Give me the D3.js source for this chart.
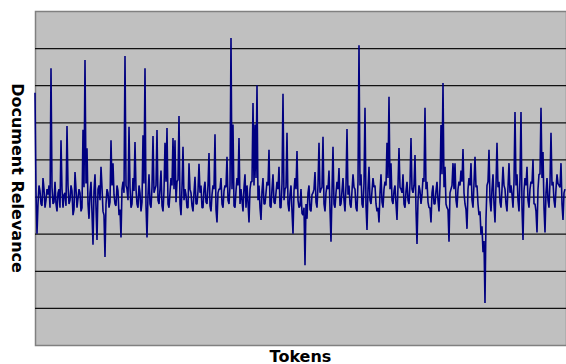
<!DOCTYPE html>
<html>
<head>
<meta charset="utf-8">
<script src="https://cdn.jsdelivr.net/npm/d3@7"></script>
<style>
  html, body { margin: 0; padding: 0; background: #fff; }
  svg { display: block; }
</style>
</head>
<body>
<div class="chart"></div>
<script>
// relevance per token, in gridline units
var relevance = [
  2.8, -1.0, 0.3, -0.2, 0.5, -0.3, 0.2, 0.3, 3.46, -0.2,
  0.4, -0.4, 0.2, 1.52, -0.3, 0.1, 1.9, -0.2, 0.3, -0.5,
  0.66, -0.3, 0.2, -0.4, 1.8, 3.68, 1.3, -0.6, 0.4, -1.3,
  0.6, -1.17, 0.3, 0.8, -0.4, -1.63, 0.2, -0.3, 1.52, 0.9,
  -0.2, 0.3, -0.5, -1.1, 0.4, 3.79, 0.2, 1.88, -0.3, 0.5,
  1.47, -0.2, 0.3, -0.4, 1.65, 3.46, -1.1, 0.6, -0.3, 1.63,
  0.2, 1.79, -0.2, 0.7, -0.4, 1.45, 1.85, -0.3, 0.5, 1.58,
  1.52, 0.4, 2.17, -0.5, 1.34, 0.2, -0.3, 0.9, 0.1, -0.4,
  0.53, -0.2, 0.88, 0.3, -0.3, 0.4, -0.2, 1.17, -0.4, 0.3,
  1.68, -0.7, 0.2, 0.5, -0.3, 0.3, 1.07, -0.2, 4.27, 1.94,
  -0.3, 0.5, 1.58, 0.2, -0.4, 0.6, 0.3, -0.7, 0.4, 2.52,
  1.94, 3.0, 0.3, -0.63, 0.5, -0.2, 0.4, 1.26, -0.3, 0.6,
  -0.2, 0.4, 0.8, -0.3, 2.77, 0.2, 1.72, -0.4, 0.3, -1.0,
  0.5, 1.23, -0.3, 0.2, -0.5, -1.85, -0.6, 0.3, -0.4, 0.1,
  0.66, -0.3, 1.45, 0.2, 1.61, -0.4, 0.3, 0.7, -1.22, 1.34,
  -0.3, 0.4, 0.77, -0.2, 0.5, -0.4, 1.82, 0.3, -0.3, 0.6,
  0.2, -0.4, 4.08, 0.6, -0.3, 2.39, -0.9, 0.8, -0.2, 0.5,
  0.3, -0.4, -0.7, 0.6, -0.3, 0.4, 1.45, 2.69, 0.9, -0.2,
  0.3, -0.63, 1.31, 0.2, 0.6, -0.3, 0.4, -0.2, 1.58, 0.1,
  1.12, -1.28, 0.3, -0.2, 0.5, 2.39, 0.4, -0.3, -0.7, 0.3,
  -0.2, 0.4, -0.4, 1.93, 3.06, 0.8, -0.3, -1.22, 0.2, 0.9,
  0.9, -0.3, 0.4, 0.7, 1.28, -0.2, -0.87, 0.5, 0.9, -0.3,
  1.07, 0.3, -0.5, -1.03, -1.5, -2.87, 0.3, 1.26, -0.4, 0.6,
  -0.7, 1.45, 0.4, -0.3, 0.8, 0.2, -0.4, 0.9, 0.3, -0.3,
  2.28, 0.6, -0.4, 2.28, -1.17, 0.5, 0.8, -0.3, 0.4, 1.0,
  -0.2, -0.97, 0.6, 2.39, 1.2, -0.97, 0.5, -0.3, 1.72, 0.4,
  -0.3, 0.6, 0.3, 0.9, -0.63, 0.2
];
// the low-level tokens that sit between the ones above
var band = [
  0.1, -0.2, 0.15, -0.25, 0.2, -0.1, 0.05, -0.3, 0.25, -0.15,
  -0.2, 0.1, -0.3, 0.2, 0.05, -0.25, 0.3, -0.1, 0.15, -0.35,
  0.2, -0.05, 0.1, -0.3, 0.25, 0.35, -0.2, 0.1, -0.45, 0.15,
  -0.3, 0.2, -0.1, 0.25, -0.5, -0.2, 0.1, -0.15, 0.3, 0.05,
  -0.25, 0.15, -0.35, 0.2, 0.1, 0.3, -0.1, 0.25, -0.2, 0.15,
  0.2, -0.3, 0.1, -0.15, 0.35, -0.25, 0.05, -0.2, 0.25, 0.1,
  0.3, -0.1, 0.2, -0.25, 0.15, 0.4, -0.2, 0.1, 0.3, 0.2,
  -0.15, 0.45, -0.2, 0.25, -0.1, 0.05, -0.3, 0.2, -0.25, 0.1,
  -0.2, 0.15, 0.1, -0.3, 0.2, -0.15, 0.3, -0.25, 0.05, 0.2,
  -0.35, 0.1, 0.2, -0.2, 0.15, 0.25, -0.1, 0.3, 0.2, -0.25,
  0.15, 0.3, -0.2, -0.1, 0.25, -0.3, -0.15, 0.2, 0.4, 0.3,
  0.5, -0.1, -0.3, 0.15, -0.2, 0.1, 0.3, -0.25, 0.2, -0.15,
  0.1, 0.2, -0.3, 0.35, -0.1, 0.25, -0.2, 0.05, -0.4, 0.15,
  0.2, -0.1, -0.25, -0.45, -0.3, -0.2, 0.1, -0.35, 0.05, 0.2,
  -0.15, 0.3, 0.1, 0.25, -0.2, 0.1, 0.2, -0.35, 0.15, -0.2,
  0.1, 0.2, -0.25, 0.15, -0.1, 0.3, 0.05, -0.2, 0.15, 0.25,
  -0.3, 0.4, 0.3, -0.2, 0.35, -0.25, 0.2, -0.1, 0.15, 0.25,
  -0.2, -0.3, 0.1, -0.15, 0.2, 0.3, 0.5, 0.2, -0.1, 0.15,
  -0.2, 0.3, 0.25, 0.1, -0.2, 0.15, -0.1, 0.35, 0.2, 0.3,
  -0.35, -0.1, 0.15, 0.05, 0.4, 0.2, -0.15, -0.3, 0.1, -0.2,
  0.15, -0.1, 0.3, 0.6, 0.25, -0.2, -0.35, 0.1, 0.3, 0.2,
  -0.1, 0.2, 0.3, 0.4, 0.1, -0.35, 0.2, 0.3, -0.1, 0.35,
  0.25, -0.2, -0.4, -0.8, -1.2, -0.6, 0.4, -0.1, 0.2, -0.2,
  0.3, 0.25, -0.15, 0.2, 0.3, -0.2, 0.25, 0.1, 0.05, 0.4,
  0.3, -0.1, 0.5, -0.3, 0.15, 0.3, -0.1, 0.2, 0.35, -0.2,
  -0.4, 0.2, 0.6, 0.5, -0.3, 0.1, -0.1, 0.4, 0.3, -0.1,
  0.2, 0.35, 0.25, -0.2, 0.1
];
var gridValues = [-3, -2, -1, 0, 1, 2, 3, 4];
var yDomain = [-4, 5];

var width = 566, height = 364;
var margin = { top: 11, right: 0, bottom: 19, left: 35 };

// interleave the two token lists in reading order
var series = d3.merge(relevance.map((v, i) => i < band.length ? [v, band[i]] : [v]));

var svg = d3.select('.chart')
  .append('svg')
  .attr('width', width)
  .attr('height', height);

var x = d3.scaleLinear()
  .domain([0, series.length - 1])
  .range([margin.left, width - margin.right - 1]);

var y = d3.scaleLinear()
  .domain(yDomain)
  .range([height - margin.bottom, margin.top]);

svg.append('rect')
  .attr('x', margin.left + 0.5)
  .attr('y', margin.top + 0.5)
  .attr('width', width - margin.left)
  .attr('height', height - margin.bottom - margin.top)
  .attr('fill', '#c0c0c0')
  .attr('stroke', '#808080')
  .attr('stroke-width', 1.5);

svg.append('g')
  .attr('transform', `translate(${margin.left},0)`)
  .call(d3.axisLeft(y).tickValues(gridValues).tickSize(-(width - margin.left)).tickFormat(''))
  .call(g => g.select('.domain').remove())
  .call(g => g.selectAll('.tick line').attr('stroke', '#111').attr('stroke-width', 1.3));

var line = d3.line()
  .x((d, i) => x(i))
  .y(d => y(d));

svg.append('path')
  .datum(series)
  .attr('d', line)
  .attr('fill', 'none')
  .attr('stroke', '#000080')
  .attr('stroke-width', 1.6)
  .attr('stroke-linejoin', 'miter')
  .attr('stroke-miterlimit', 1);

svg.append('text')
  .attr('transform', `translate(12, ${(margin.top + height - margin.bottom) / 2}) rotate(90)`)
  .attr('text-anchor', 'middle')
  .attr('font-family', 'DejaVu Sans')
  .attr('font-weight', 'bold')
  .attr('font-size', 16)
  .text('Document Relevance');

svg.append('text')
  .attr('x', (margin.left + width) / 2)
  .attr('y', 362)
  .attr('text-anchor', 'middle')
  .attr('font-family', 'DejaVu Sans')
  .attr('font-weight', 'bold')
  .attr('font-size', 16)
  .text('Tokens');
</script>
</body>
</html>
